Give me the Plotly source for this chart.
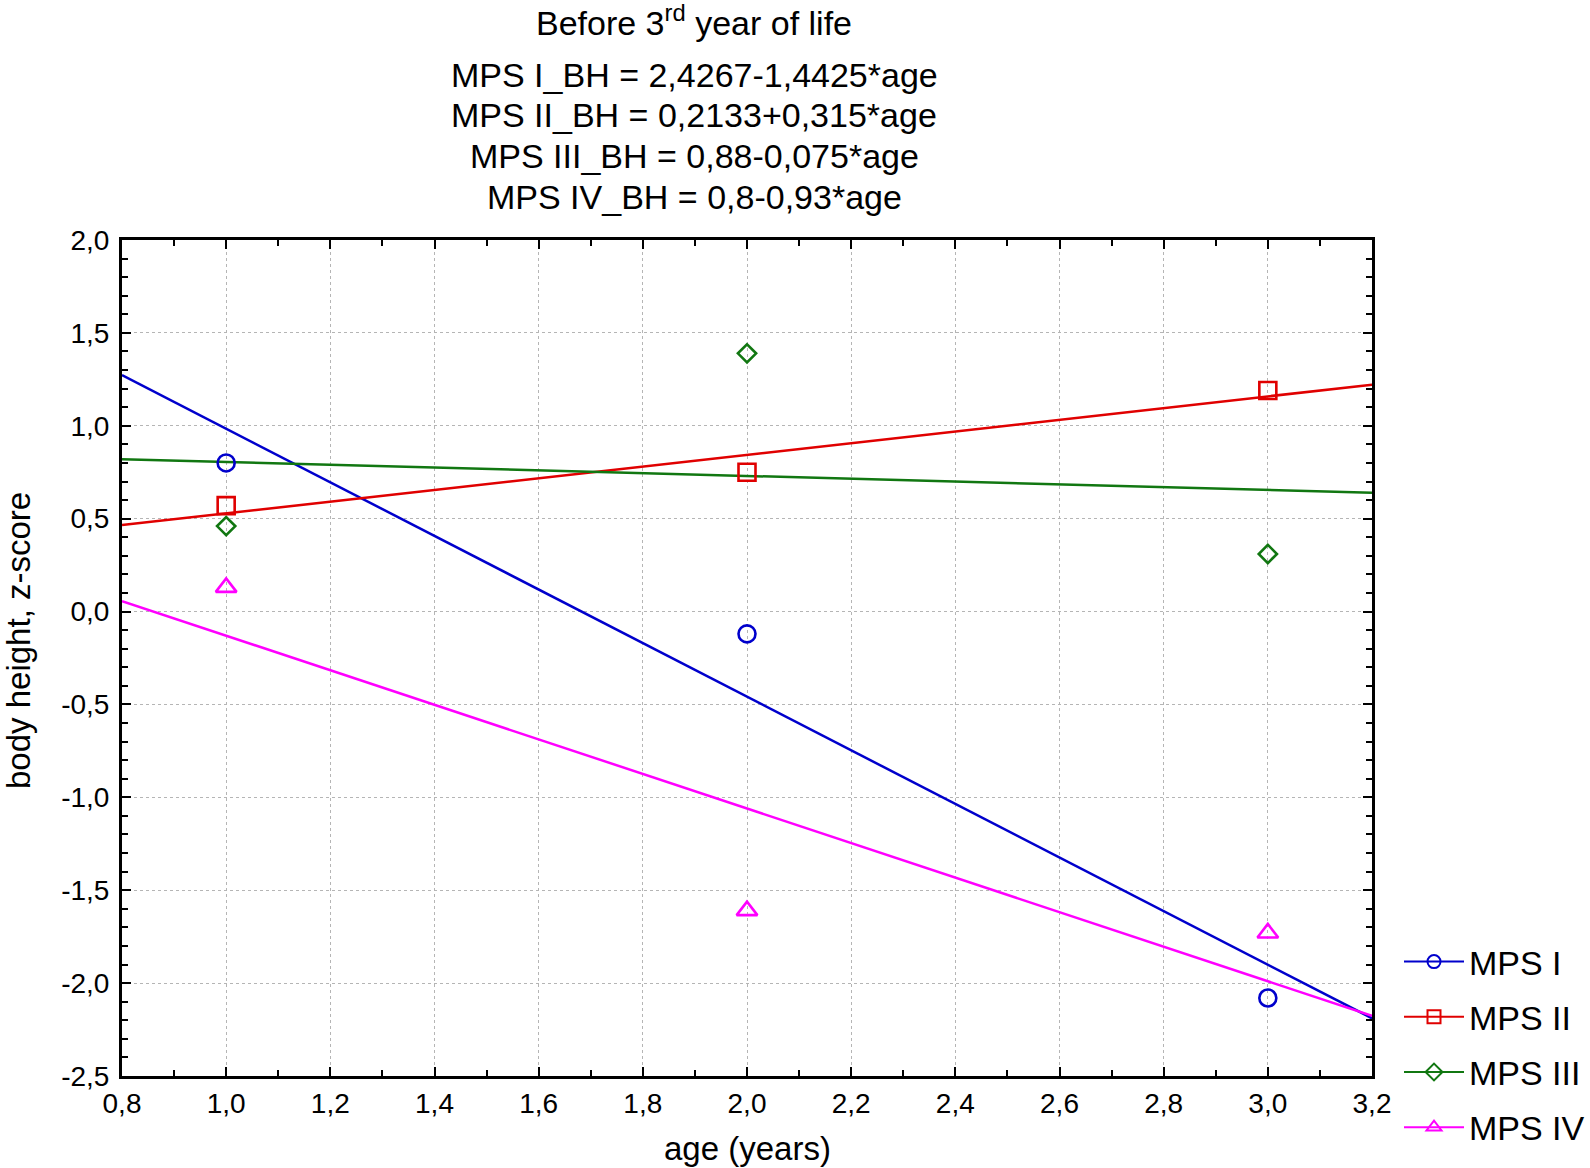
import plotly.graph_objects as go

# ---- data ----
series = ["MPS I", "MPS II", "MPS III", "MPS IV"]
ages = [1.0, 2.0, 3.0]
mps1 = [0.80, -0.12, -2.08]
mps2 = [0.57, 0.75, 1.19]
mps3 = [0.46, 1.39, 0.31]
mps4 = [0.13, -1.61, -1.73]
intercepts = [2.4267, 0.2133, 0.88, 0.8]
slopes = [-1.4425, 0.315, -0.075, -0.93]
x_range = [0.8, 3.2]
y_range = [-2.5, 2.0]
x_ticks = [0.8, 1.0, 1.2, 1.4, 1.6, 1.8, 2.0, 2.2, 2.4, 2.6, 2.8, 3.0, 3.2]
y_ticks = [-2.5, -2.0, -1.5, -1.0, -0.5, 0.0, 0.5, 1.0, 1.5, 2.0]
title_main = "Before 3<sup>rd</sup> year of life"
title_lines = [
    "MPS I_BH = 2,4267-1,4425*age",
    "MPS II_BH = 0,2133+0,315*age",
    "MPS III_BH = 0,88-0,075*age",
    "MPS IV_BH = 0,8-0,93*age",
]
x_title = "age (years)"
y_title = "body height, z-score"

values = [mps1, mps2, mps3, mps4]
colors = ["#0000CC", "#E00000", "#117711", "#FF00FF"]
symbols = ["circle-open", "square-open", "diamond-open", "triangle-up-open"]
msizes = [17, 17, 14, 18]

FONT = "Liberation Sans, Arial, sans-serif"

def fmt(v):
    return f"{v:.1f}".replace(".", ",")

fig = go.Figure()
for i, name in enumerate(series):
    xs = x_range
    ys = [intercepts[i] + slopes[i] * x for x in xs]
    fig.add_trace(go.Scatter(x=xs, y=ys, mode="lines", line=dict(color=colors[i], width=2.5),
                             showlegend=False, hoverinfo="skip"))
for i, name in enumerate(series):
    fig.add_trace(go.Scatter(x=ages, y=values[i], mode="markers", showlegend=False,
                             marker=dict(symbol=symbols[i], size=msizes[i], color=colors[i],
                                         line=dict(width=2.6, color=colors[i]))))
for i, name in enumerate(series):
    fig.add_trace(go.Scatter(x=[None], y=[None], mode="lines+markers", name=name,
                             legendgroup=name,
                             line=dict(color=colors[i], width=2),
                             marker=dict(symbol=symbols[i], size=13, color=colors[i],
                                         line=dict(width=2, color=colors[i]))))

axis_common = dict(
    showline=True, linecolor="black", linewidth=3, mirror="ticks",
    ticks="inside", ticklen=9, tickwidth=2, tickcolor="black",
    showgrid=True, gridcolor="#b5b5b5", griddash="dot", gridwidth=1,
    zeroline=False, automargin=False,
    tickfont=dict(family=FONT, size=28, color="black"),
)

fig.update_xaxes(range=x_range, tickmode="array", tickvals=x_ticks, ticktext=[fmt(v) for v in x_ticks],
                 minor=dict(dtick=0.1, tick0=0.8, ticks="inside", ticklen=6, tickwidth=2, tickcolor="black", showgrid=False),
                 **axis_common)
fig.update_yaxes(range=y_range, tickmode="array", tickvals=y_ticks, ticktext=[fmt(v) for v in y_ticks],
                 ticklabelstandoff=4,
                 minor=dict(dtick=0.1, tick0=0, ticks="inside", ticklen=6, tickwidth=2, tickcolor="black", showgrid=False),
                 **axis_common)

W, H = 1590, 1168
L, T = 122, 240
PW, PH = 1250, 836
R = W - L - PW
B = H - T - PH

def ypx(px):  # page pixel -> paper y
    return (T + PH - px) / PH

def xpx(px):  # page pixel -> paper x
    return (px - L) / PW

XC = xpx(694)
anns = [dict(text=title_main, x=XC, y=ypx(20), xref="paper", yref="paper",
             showarrow=False, yanchor="middle", font=dict(family=FONT, size=34, color="black"))]
for k, t in enumerate(title_lines):
    anns.append(dict(text=t, x=XC, y=ypx(75 + 40.5 * k), xref="paper", yref="paper",
                     showarrow=False, yanchor="middle", font=dict(family=FONT, size=34, color="black")))
anns.append(dict(text=x_title, x=0.5, y=ypx(1148), xref="paper", yref="paper", showarrow=False,
                 yanchor="middle", font=dict(family=FONT, size=33, color="black")))
anns.append(dict(text=y_title, x=xpx(18), y=ypx(641), xref="paper", yref="paper", showarrow=False,
                 textangle=-90, xanchor="center", yanchor="middle",
                 font=dict(family=FONT, size=33, color="black")))

fig.update_layout(
    width=W, height=H,
    margin=dict(l=L, r=R, t=T, b=B, autoexpand=False),
    paper_bgcolor="white", plot_bgcolor="white",
    annotations=anns,
    legend=dict(x=xpx(1399), y=ypx(933), xanchor="left", yanchor="top",
                font=dict(family=FONT, size=34, color="black"),
                tracegroupgap=8, itemwidth=60, bgcolor="rgba(0,0,0,0)"),
)

fig.write_html("out.html", config={"displayModeBar": False},
               post_script="document.body.style.margin='0';document.body.style.padding='0';")
